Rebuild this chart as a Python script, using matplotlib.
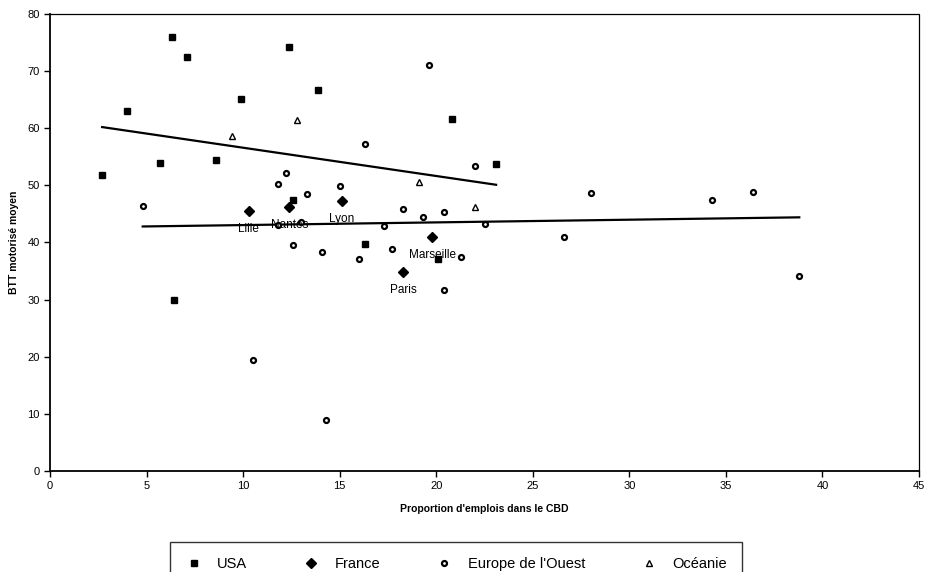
import matplotlib.pyplot as plt

plt.rcParams['font.family'] = ['Liberation Sans', 'DejaVu Sans']

# USA
usa_x = [6.3, 7.1, 12.4, 13.9, 4.0, 9.9, 5.7, 8.6, 2.7, 12.6, 20.8, 23.1, 6.4, 16.3, 20.1]
usa_y = [75.9, 72.5, 74.2, 66.7, 63.1, 65.2, 53.9, 54.4, 51.8, 47.4, 61.6, 53.7, 29.9, 39.7, 37.1]

# France (named cities)
fra_names = ['Lille', 'Nantes', 'Lyon', 'Marseille', 'Paris']
fra_x = [10.3, 12.4, 15.1, 19.8, 18.3]
fra_y = [45.5, 46.2, 47.2, 40.9, 34.8]

# Europe de l'Ouest
eur_x = [4.8, 12.2, 11.8, 13.3, 15.0, 19.6, 16.3, 18.3, 20.4, 28.0, 17.3, 22.5,
         26.6, 12.6, 14.1, 16.0, 10.5, 14.3, 17.7, 21.3, 20.4, 19.3, 13.0, 22.0,
         34.3, 36.4, 38.8, 11.8]
eur_y = [46.4, 52.1, 50.3, 48.4, 49.8, 71.1, 57.2, 45.8, 45.4, 48.6, 42.9, 43.2,
         41.0, 39.6, 38.4, 37.1, 19.4, 9.0, 38.9, 37.5, 31.7, 44.4, 43.6, 53.3,
         47.4, 48.9, 34.1, 43.0]

# Océanie
oce_x = [9.4, 12.8, 19.1, 22.0]
oce_y = [58.6, 61.4, 50.5, 46.2]

# trend lines (end points)
usa_trend_x = [2.7, 23.1]
usa_trend_y = [60.2, 50.1]
eur_trend_x = [4.8, 38.8]
eur_trend_y = [42.8, 44.4]

fig = plt.figure(figsize=(9.33, 5.72), dpi=100)
ax = fig.add_axes([0.0536, 0.1766, 0.9314, 0.799])

ax.plot(usa_trend_x, usa_trend_y, color='black', lw=1.6)
ax.plot(eur_trend_x, eur_trend_y, color='black', lw=1.6)

ax.plot(usa_x, usa_y, 's', color='black', ms=4.5, label='USA')
ax.plot(fra_x, fra_y, 'D', color='black', ms=5.5, label='France')
ax.plot(eur_x, eur_y, 'o', mfc='white', mec='black', mew=1.6, ms=3.6,
        label="Europe de l'Ouest")
ax.plot(oce_x, oce_y, '^', mfc='white', mec='black', mew=1.0, ms=4,
        label='Océanie')

for name, x, y in zip(fra_names, fra_x, fra_y):
    ax.annotate(name, (x, y), xytext=(0, -13), textcoords='offset points',
                ha='center', va='center', fontsize=8.5)

ax.set_xlim(0, 45)
ax.set_ylim(0, 80)
ax.set_xticks(range(0, 46, 5))
ax.set_yticks(range(0, 81, 10))
ax.tick_params(direction='out', length=4, width=1, labelsize=8)
ax.set_xlabel("Proportion d'emplois dans le CBD", fontsize=7.5,
              fontweight='bold', labelpad=9)
ax.set_ylabel('BTT motorisé moyen', fontsize=7.5, fontweight='bold',
              labelpad=6)

for side in ['left', 'bottom']:
    ax.spines[side].set_linewidth(1.3)
for side in ['top', 'right']:
    ax.spines[side].set_linewidth(0.9)
    ax.spines[side].set_linestyle((0, (2, 1)))

leg = fig.legend(loc='upper left', bbox_to_anchor=(163 / 933, 1 - 535 / 572),
                 ncol=4, frameon=True, fancybox=False, edgecolor='black',
                 fontsize=10.5, handlelength=1.2, columnspacing=3.8,
                 borderpad=1.0, handletextpad=1.0)
leg.get_frame().set_linewidth(1.0)

fig.savefig('out.png', dpi=100)
